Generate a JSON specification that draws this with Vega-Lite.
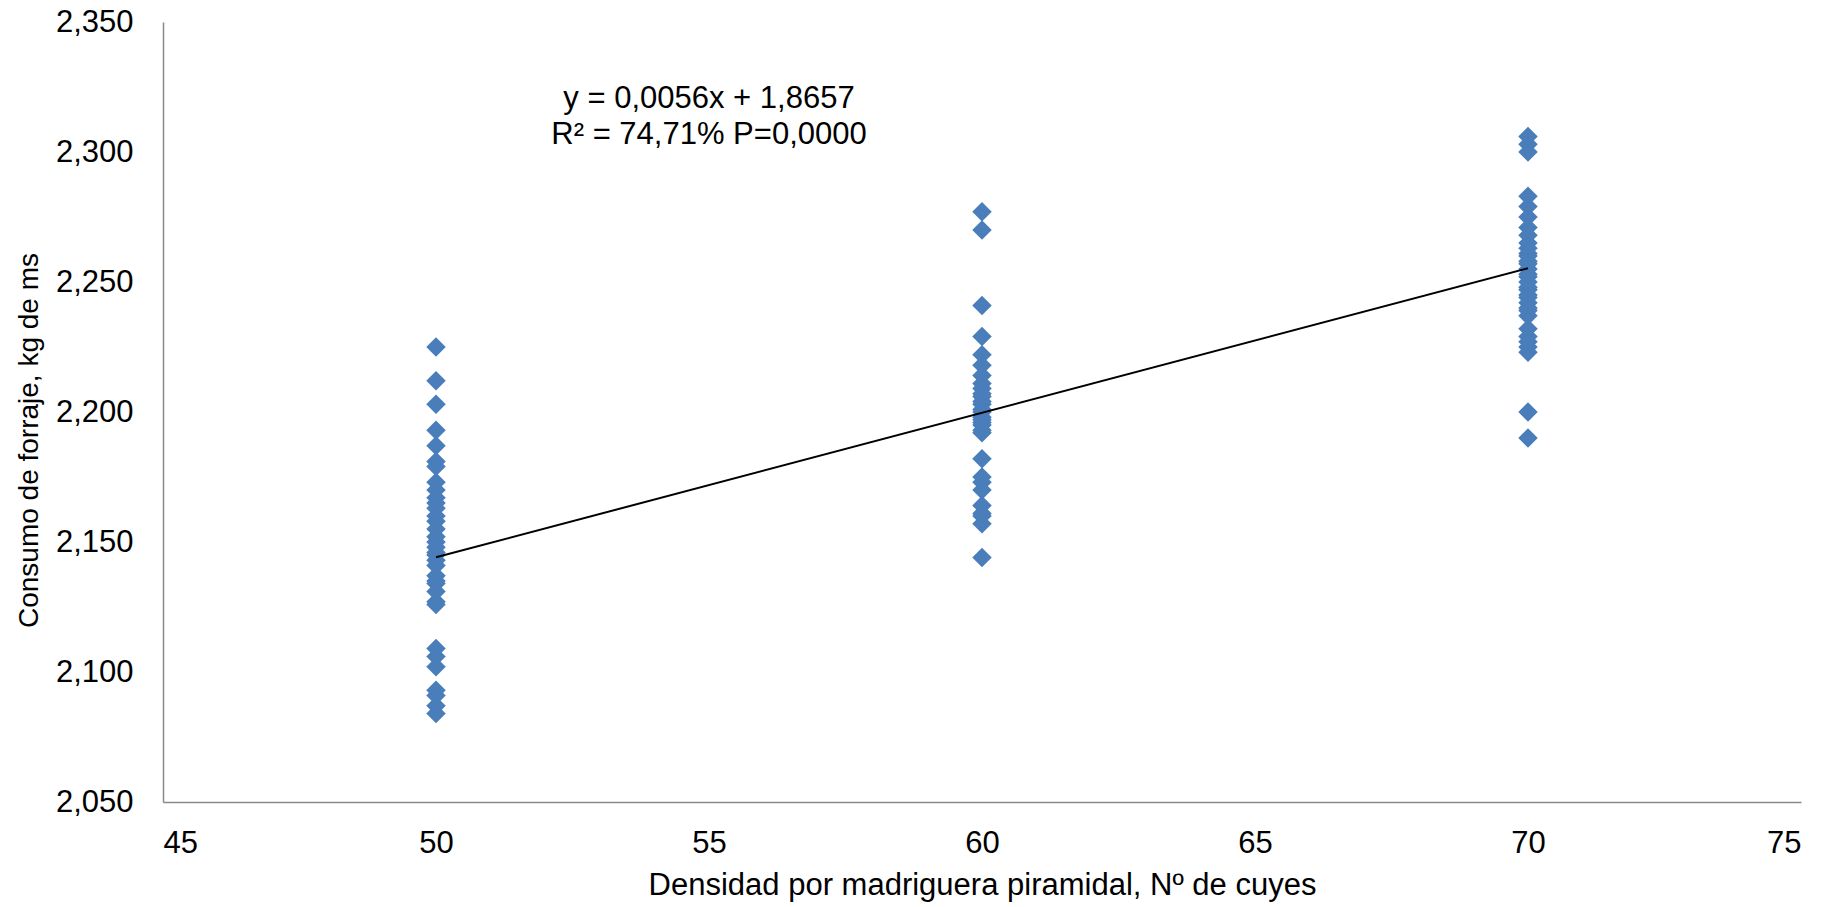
{
  "$schema": "https://vega.github.io/schema/vega-lite/v6.json",
  "width": 1638,
  "height": 780,
  "autosize": {"type": "none"},
  "padding": {"left": 163, "top": 22, "right": 31, "bottom": 105},
  "background": "white",
  "datasets": {
    "puntos": [
      {"densidad": 50, "consumo": 2.225}, {"densidad": 50, "consumo": 2.212}, {"densidad": 50, "consumo": 2.203},
      {"densidad": 50, "consumo": 2.193}, {"densidad": 50, "consumo": 2.187}, {"densidad": 50, "consumo": 2.181},
      {"densidad": 50, "consumo": 2.179}, {"densidad": 50, "consumo": 2.173}, {"densidad": 50, "consumo": 2.170},
      {"densidad": 50, "consumo": 2.167}, {"densidad": 50, "consumo": 2.165}, {"densidad": 50, "consumo": 2.163},
      {"densidad": 50, "consumo": 2.160}, {"densidad": 50, "consumo": 2.158}, {"densidad": 50, "consumo": 2.155},
      {"densidad": 50, "consumo": 2.152}, {"densidad": 50, "consumo": 2.150}, {"densidad": 50, "consumo": 2.148},
      {"densidad": 50, "consumo": 2.146}, {"densidad": 50, "consumo": 2.145}, {"densidad": 50, "consumo": 2.143},
      {"densidad": 50, "consumo": 2.141}, {"densidad": 50, "consumo": 2.137}, {"densidad": 50, "consumo": 2.135},
      {"densidad": 50, "consumo": 2.134}, {"densidad": 50, "consumo": 2.131}, {"densidad": 50, "consumo": 2.127},
      {"densidad": 50, "consumo": 2.126}, {"densidad": 50, "consumo": 2.109}, {"densidad": 50, "consumo": 2.106},
      {"densidad": 50, "consumo": 2.102}, {"densidad": 50, "consumo": 2.093}, {"densidad": 50, "consumo": 2.091},
      {"densidad": 50, "consumo": 2.087}, {"densidad": 50, "consumo": 2.084},
      {"densidad": 60, "consumo": 2.277}, {"densidad": 60, "consumo": 2.270}, {"densidad": 60, "consumo": 2.241},
      {"densidad": 60, "consumo": 2.229}, {"densidad": 60, "consumo": 2.222}, {"densidad": 60, "consumo": 2.218},
      {"densidad": 60, "consumo": 2.214}, {"densidad": 60, "consumo": 2.211}, {"densidad": 60, "consumo": 2.209},
      {"densidad": 60, "consumo": 2.207}, {"densidad": 60, "consumo": 2.206}, {"densidad": 60, "consumo": 2.204},
      {"densidad": 60, "consumo": 2.203}, {"densidad": 60, "consumo": 2.201}, {"densidad": 60, "consumo": 2.200},
      {"densidad": 60, "consumo": 2.198}, {"densidad": 60, "consumo": 2.197}, {"densidad": 60, "consumo": 2.196},
      {"densidad": 60, "consumo": 2.195}, {"densidad": 60, "consumo": 2.193}, {"densidad": 60, "consumo": 2.192},
      {"densidad": 60, "consumo": 2.182}, {"densidad": 60, "consumo": 2.175}, {"densidad": 60, "consumo": 2.173},
      {"densidad": 60, "consumo": 2.170}, {"densidad": 60, "consumo": 2.164}, {"densidad": 60, "consumo": 2.161},
      {"densidad": 60, "consumo": 2.160}, {"densidad": 60, "consumo": 2.157}, {"densidad": 60, "consumo": 2.144},
      {"densidad": 70, "consumo": 2.306}, {"densidad": 70, "consumo": 2.303}, {"densidad": 70, "consumo": 2.300},
      {"densidad": 70, "consumo": 2.283}, {"densidad": 70, "consumo": 2.279}, {"densidad": 70, "consumo": 2.275},
      {"densidad": 70, "consumo": 2.271}, {"densidad": 70, "consumo": 2.268}, {"densidad": 70, "consumo": 2.265},
      {"densidad": 70, "consumo": 2.263}, {"densidad": 70, "consumo": 2.261}, {"densidad": 70, "consumo": 2.260},
      {"densidad": 70, "consumo": 2.258}, {"densidad": 70, "consumo": 2.257}, {"densidad": 70, "consumo": 2.255},
      {"densidad": 70, "consumo": 2.253}, {"densidad": 70, "consumo": 2.252}, {"densidad": 70, "consumo": 2.250},
      {"densidad": 70, "consumo": 2.248}, {"densidad": 70, "consumo": 2.247}, {"densidad": 70, "consumo": 2.245},
      {"densidad": 70, "consumo": 2.244}, {"densidad": 70, "consumo": 2.242}, {"densidad": 70, "consumo": 2.240},
      {"densidad": 70, "consumo": 2.239}, {"densidad": 70, "consumo": 2.237}, {"densidad": 70, "consumo": 2.232},
      {"densidad": 70, "consumo": 2.229}, {"densidad": 70, "consumo": 2.227}, {"densidad": 70, "consumo": 2.225},
      {"densidad": 70, "consumo": 2.223}, {"densidad": 70, "consumo": 2.200}, {"densidad": 70, "consumo": 2.190}
    ],
    "tendencia": [
      {"densidad": 50, "consumo": 2.1441},
      {"densidad": 70, "consumo": 2.2553}
    ],
    "etiqueta": [
      {"densidad": 55, "consumo": 2.3204, "texto": "y = 0,0056x + 1,8657"},
      {"densidad": 55, "consumo": 2.3065, "texto": "R² = 74,71%  P=0,0000"}
    ]
  },
  "config": {
    "view": {"stroke": null},
    "font": "Liberation Sans",
    "axis": {
      "grid": false,
      "ticks": false,
      "domainColor": "#898989",
      "domainWidth": 1.5,
      "labelFont": "Liberation Sans",
      "labelFontSize": 31,
      "labelColor": "#000000",
      "titleFont": "Liberation Sans",
      "titleFontSize": 31,
      "titleFontWeight": "normal",
      "titleColor": "#000000"
    }
  },
  "layer": [
    {
      "data": {"name": "puntos"},
      "mark": {"type": "point", "shape": "diamond", "filled": true, "size": 380, "color": "#4A7EBB", "opacity": 1},
      "encoding": {
        "x": {
          "field": "densidad", "type": "quantitative",
          "scale": {"domain": [45, 75], "nice": false, "zero": false},
          "axis": {
            "values": [45, 50, 55, 60, 65, 70, 75],
            "labelPadding": 26,
            "title": "Densidad por madriguera piramidal, Nº de cuyes",
            "titleBaseline": "middle",
            "titleY": 83
          }
        },
        "y": {
          "field": "consumo", "type": "quantitative",
          "scale": {"domain": [2.05, 2.35], "nice": false, "zero": false},
          "axis": {
            "values": [2.05, 2.1, 2.15, 2.2, 2.25, 2.3, 2.35],
            "labelExpr": "replace(format(datum.value, '.3f'), '.', ',')",
            "labelPadding": 30,
            "title": "Consumo de forraje, kg de ms",
            "titleFontSize": 28,
            "titleBaseline": "middle",
            "titleX": -134,
            "titleY": 418
          }
        }
      }
    },
    {
      "data": {"name": "tendencia"},
      "mark": {"type": "line", "color": "#000000", "strokeWidth": 2},
      "encoding": {
        "x": {"field": "densidad", "type": "quantitative"},
        "y": {"field": "consumo", "type": "quantitative"}
      }
    },
    {
      "data": {"name": "etiqueta"},
      "mark": {"type": "text", "fontSize": 31, "font": "Liberation Sans", "color": "#000000", "align": "center", "baseline": "middle"},
      "encoding": {
        "x": {"field": "densidad", "type": "quantitative"},
        "y": {"field": "consumo", "type": "quantitative"},
        "text": {"field": "texto"}
      }
    }
  ]
}
